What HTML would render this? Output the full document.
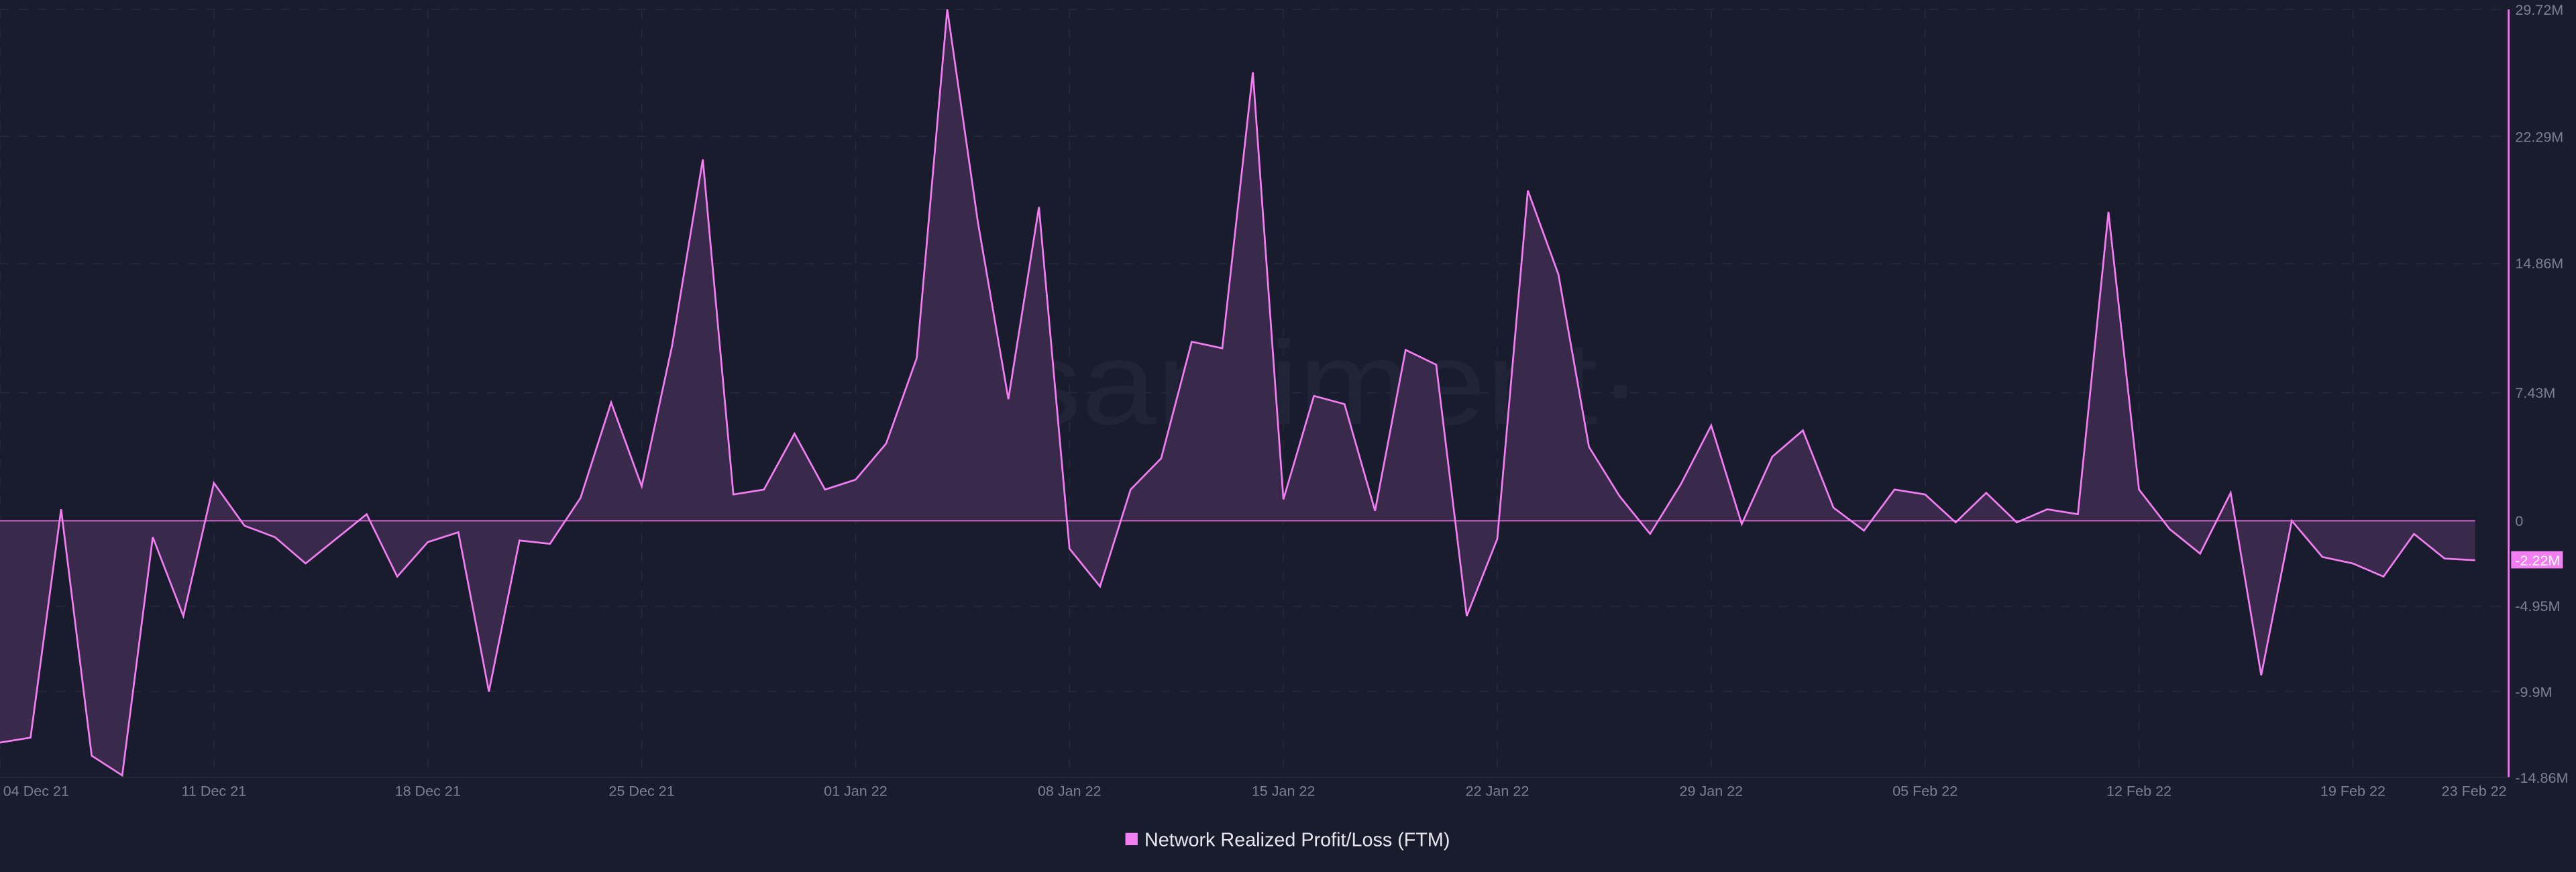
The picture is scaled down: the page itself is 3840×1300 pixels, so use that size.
<!DOCTYPE html>
<html><head><meta charset="utf-8"><style>
html,body{margin:0;padding:0;background:#191c2c;}
svg{display:block;}
</style></head><body>
<svg width="3840" height="1300" viewBox="0 0 1568 530.8" preserveAspectRatio="none" xmlns="http://www.w3.org/2000/svg">
<rect x="0" y="0" width="1568" height="531" fill="#191c2c"/>
<g stroke="#272b3c" stroke-width="0.6" stroke-dasharray="5.7 5.7">
<line x1="0" y1="5.7" x2="1527" y2="5.7"/>
<line x1="0" y1="83" x2="1527" y2="83"/>
<line x1="0" y1="160.5" x2="1527" y2="160.5"/>
<line x1="0" y1="239" x2="1527" y2="239"/>
<line x1="0" y1="369" x2="1527" y2="369"/>
<line x1="0" y1="421" x2="1527" y2="421"/>
<line x1="0" y1="5.7" x2="0" y2="473"/>
<line x1="130.2" y1="5.7" x2="130.2" y2="473"/>
<line x1="260.4" y1="5.7" x2="260.4" y2="473"/>
<line x1="390.6" y1="5.7" x2="390.6" y2="473"/>
<line x1="520.8" y1="5.7" x2="520.8" y2="473"/>
<line x1="651" y1="5.7" x2="651" y2="473"/>
<line x1="781.2" y1="5.7" x2="781.2" y2="473"/>
<line x1="911.4" y1="5.7" x2="911.4" y2="473"/>
<line x1="1041.6" y1="5.7" x2="1041.6" y2="473"/>
<line x1="1171.8" y1="5.7" x2="1171.8" y2="473"/>
<line x1="1302" y1="5.7" x2="1302" y2="473"/>
<line x1="1432.2" y1="5.7" x2="1432.2" y2="473"/>
</g>
<line x1="0" y1="473.3" x2="1527" y2="473.3" stroke="#262a3a" stroke-width="0.8"/>
<text x="795" y="258" font-family="Liberation Sans Narrow, Liberation Sans, sans-serif" font-size="72" fill="#222638" fill-opacity="0.9" text-anchor="middle" textLength="410" lengthAdjust="spacingAndGlyphs">·santiment·</text>
<path fill="#3b2a4c" fill-opacity="0.95" d="M0,317 L0,452 L18.6,449 L37.2,310 L55.8,460 L74.4,472 L93,327 L111.6,375 L130.2,294 L148.8,320 L167.4,327 L186,343 L204.6,328 L223.2,313 L241.8,351 L260.4,330 L279,324 L297.6,421 L316.2,329 L334.8,331 L353.4,303 L372,245 L390.6,296 L409.2,210 L427.8,97 L446.4,301 L465,298 L483.6,264 L502.2,298 L520.8,292 L539.4,270 L558,218 L576.6,5.7 L595.2,135 L613.8,243 L632.4,126 L651,334 L669.6,357 L688.2,298 L706.8,279 L725.4,208 L744,212 L762.6,44 L781.2,304 L799.8,241 L818.4,246 L837,311 L855.6,213 L874.2,222 L892.8,375 L911.4,328 L930,116 L948.6,167 L967.2,272 L985.8,302 L1004.4,325 L1023,295 L1041.6,259 L1060.2,319 L1078.8,278 L1097.4,262 L1116,309 L1134.6,323 L1153.2,298 L1171.8,301 L1190.4,318 L1209,300 L1227.6,318 L1246.2,310 L1264.8,313 L1283.4,129 L1302,298 L1320.6,322 L1339.2,337 L1357.8,300 L1376.4,411 L1395,317 L1413.6,339 L1432.2,343 L1450.8,351 L1469.4,325 L1488,340 L1506.6,341 L1506.6,317 Z"/>
<line x1="0" y1="317" x2="1506.6" y2="317" stroke="#c868c8" stroke-width="0.8"/>
<polyline fill="none" stroke="#f27ef2" stroke-width="1.1" stroke-linejoin="miter" points="0,452 18.6,449 37.2,310 55.8,460 74.4,472 93,327 111.6,375 130.2,294 148.8,320 167.4,327 186,343 204.6,328 223.2,313 241.8,351 260.4,330 279,324 297.6,421 316.2,329 334.8,331 353.4,303 372,245 390.6,296 409.2,210 427.8,97 446.4,301 465,298 483.6,264 502.2,298 520.8,292 539.4,270 558,218 576.6,5.7 595.2,135 613.8,243 632.4,126 651,334 669.6,357 688.2,298 706.8,279 725.4,208 744,212 762.6,44 781.2,304 799.8,241 818.4,246 837,311 855.6,213 874.2,222 892.8,375 911.4,328 930,116 948.6,167 967.2,272 985.8,302 1004.4,325 1023,295 1041.6,259 1060.2,319 1078.8,278 1097.4,262 1116,309 1134.6,323 1153.2,298 1171.8,301 1190.4,318 1209,300 1227.6,318 1246.2,310 1264.8,313 1283.4,129 1302,298 1320.6,322 1339.2,337 1357.8,300 1376.4,411 1395,317 1413.6,339 1432.2,343 1450.8,351 1469.4,325 1488,340 1506.6,341"/>
<line x1="1527" y1="5.7" x2="1527" y2="473" stroke="#f27ef2" stroke-width="1.1"/>
<g font-family="Liberation Sans, sans-serif" font-size="8.8" fill="#7b8194">
<text x="1531" y="8.9">29.72M</text>
<text x="1531" y="86.3">22.29M</text>
<text x="1531" y="163.4">14.86M</text>
<text x="1531" y="242.2">7.43M</text>
<text x="1531" y="320.2">0</text>
<text x="1531" y="372">-4.95M</text>
<text x="1531" y="424.2">-9.9M</text>
<text x="1531" y="476.4">-14.86M</text>
</g>
<rect x="1528.5" y="335.5" width="31.5" height="10.5" fill="#f27ef2"/>
<text x="1531" y="344.2" font-family="Liberation Sans, sans-serif" font-size="8.8" fill="#ffffff">-2.22M</text>
<g font-family="Liberation Sans, sans-serif" font-size="8.8" fill="#7b8194" text-anchor="middle">
<text x="22" y="484.5">04 Dec 21</text>
<text x="130.2" y="484.5">11 Dec 21</text>
<text x="260.4" y="484.5">18 Dec 21</text>
<text x="390.6" y="484.5">25 Dec 21</text>
<text x="520.8" y="484.5">01 Jan 22</text>
<text x="651" y="484.5">08 Jan 22</text>
<text x="781.2" y="484.5">15 Jan 22</text>
<text x="911.4" y="484.5">22 Jan 22</text>
<text x="1041.6" y="484.5">29 Jan 22</text>
<text x="1171.8" y="484.5">05 Feb 22</text>
<text x="1302" y="484.5">12 Feb 22</text>
<text x="1432.2" y="484.5">19 Feb 22</text>
<text x="1506" y="484.5">23 Feb 22</text>
</g>
<rect x="685" y="507" width="7.5" height="7.5" fill="#f27ef2"/>
<text x="696.6" y="515" font-family="Liberation Sans, sans-serif" font-size="11.6" fill="#e6e6ee" textLength="186" lengthAdjust="spacingAndGlyphs">Network Realized Profit/Loss (FTM)</text>
</svg>
</body></html>
